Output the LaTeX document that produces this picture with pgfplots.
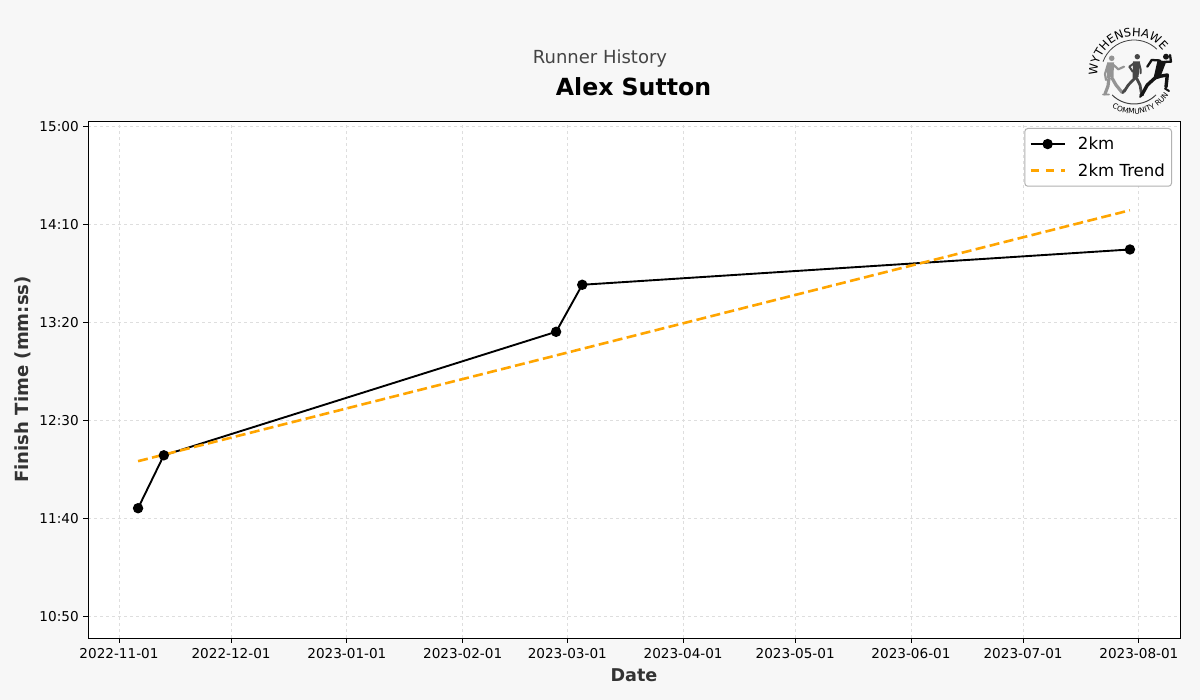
\documentclass[border=0pt]{standalone}
\usepackage{pgfplots}
\pgfplotsset{compat=1.18}
\usepackage{fontspec}
\setmainfont{DejaVu Sans}
\usetikzlibrary{decorations.text}
\definecolor{bg}{HTML}{F7F7F7}
\definecolor{gridc}{HTML}{DEDEDE}
\definecolor{labc}{HTML}{333333}
\definecolor{titc}{HTML}{444444}
\definecolor{trend}{HTML}{FFA500}
\newcommand{\fs}[1]{\fontsize{#1pt}{#1pt}\selectfont}
\begin{document}
\begin{tikzpicture}[x=1pt,y=1pt]
\fill[bg] (0,0) rectangle (1200,700);
\begin{axis}[
  at={(88pt,62pt)},anchor=south west,
  scale only axis,width=1092pt,height=517pt,
  xmin=-8.3,xmax=284,ymin=638.8,ymax=902.55,
  axis background/.style={fill=white},
  axis line style={black,line width=0.9pt},
  xtick={0,30,61,92,120,151,181,212,242,273},
  xticklabels={2022-11-01,2022-12-01,2023-01-01,2023-02-01,2023-03-01,2023-04-01,2023-05-01,2023-06-01,2023-07-01,2023-08-01},
  ytick={650,700,750,800,850,900},
  yticklabels={10:50,11:40,12:30,13:20,14:10,15:00},
  tick align=outside,tick pos=lower,
  major tick style={black,line width=0.9pt},
  major tick length=4.8pt,
  ticklabel style={font=\fs{13.6}},
  xticklabel style={yshift=-2.5pt},
  yticklabel style={xshift=-1pt,yshift=-0.5pt},
  grid=major,
  grid style={gridc,dashed,line width=0.8pt},
  xlabel={\fs{17.6}\bfseries Date},
  ylabel={\fs{18.1}\bfseries Finish Time (mm:ss)},
  xlabel style={text=labc,at={(axis description cs:0.5,-0.0716)},anchor=center},
  ylabel style={text=labc,at={(axis description cs:-0.0595,0.5)},anchor=center},
  legend style={at={(1084pt,510pt)},anchor=north east,font=\fs{16.6},draw=gridc!80!black,rounded corners=3pt,line width=1pt,fill=white,inner xsep=4.5pt,inner ysep=6.5pt,row sep=8.5pt},
  legend cell align=left,
  legend image code/.code={\draw[#1,mark repeat=2,mark phase=2] plot coordinates {(0pt,0pt) (17pt,0pt) (34pt,0pt)};},
  /tikz/every odd column/.append style={column sep=10pt},
]
\addplot[black,line width=1.9pt,mark=*,mark size=4.2pt,mark options={fill=black,solid}] coordinates {
(5.1,705) (12,732) (117,795) (124,819) (270.6,837)};
\addlegendentry{2km}
\addplot[trend,line width=2.6pt,dash pattern=on 10pt off 4.4pt,forget plot] coordinates {
(5.1,729) (270.6,857)};
\addlegendimage{trend,line width=2.6pt,dash pattern=on 8.5pt off 6.8pt}
\addlegendentry{2km Trend}
\end{axis}
\node at (600,641) {\fs{18}\color{titc}Runner History};
\node at (633.5,613) {\fs{23.6}\bfseries Alex Sutton};
% logo
\begin{scope}[shift={(1134,627)}]
\draw[black!75,line width=0.8pt] (160:33) arc (160:46:33);
\draw[black!75,line width=1pt] (-135:31) arc (-135:-45:31);
\path[decorate,decoration={text along path,text align=center,text={|\fs{11.6}|WYTHENSHAWE}}] (192:36.5) arc (192:30:36.5);
\path[decorate,decoration={text along path,text align=center,text={|\fs{7.4}|COMMUNITY RUN}}] (-135:41) arc (-135:-20:41);
% grey runner
\fill[black!42] (-22.3,14.7) circle (2.8);
\fill[black!42] (-27,10.5) -- (-20,10.5) -- (-20.5,-4) -- (-27,-5) -- cycle;
\draw[black!42,line width=2.2pt,line cap=round,line join=round] (-21,8.5) -- (-15.7,3.7) -- (-10,6.3) (-26,9) -- (-29,-1) -- (-28,-7);
\draw[black!42,line width=3.2pt,line cap=round,line join=round] (-22,-5) -- (-18,-12) -- (-12.3,-19) (-25,-5) -- (-26,-13) -- (-29,-21);
\draw[black!42,line width=1.8pt,line cap=round] (-31,-21.5) -- (-25,-21.5) (-13,-19.5) -- (-10.5,-20);
% mid runner
\fill[black!72] (3.3,16.3) circle (2.7);
\fill[black!72] (-1,11.5) -- (6,11.5) -- (4.5,-4) -- (-1.5,-5) -- cycle;
\draw[black!72,line width=2pt,line cap=round,line join=round] (0.5,10) -- (-4.7,6.3) -- (-1.3,1.3) (5,10) -- (6.7,3) -- (6.7,-0.3);
\draw[black!72,line width=2.8pt,line cap=round,line join=round] (1,-5) -- (-5.7,-12) -- (-10,-18.7) (2.5,-5) -- (6,-12) -- (7.5,-21);
\draw[black!72,line width=1.8pt,line cap=round] (-11.5,-20) -- (-10,-17) (6,-22) -- (9,-22);
% dark runner
\fill[black!92] (32,16.3) circle (3);
\fill[black!92] (23.5,12.5) -- (32.5,12) -- (26,-5) -- (19,-7.5) -- cycle;
\draw[black!92,line width=2.3pt,line cap=round,line join=round] (26,12.5) -- (17.7,13) -- (13.3,6.3) (30,11) -- (37,11.3) -- (36,18);
\draw[black!92,line width=3.4pt,line cap=round,line join=round] (21,-5) -- (13.3,-12) -- (7.7,-22) (22,-4) -- (33.3,-2) -- (32,-14);
\draw[black!92,line width=2pt,line cap=round] (6,-24) -- (9,-21) (31,-15.5) -- (35,-18);
\end{scope}
\end{tikzpicture}
\end{document}
